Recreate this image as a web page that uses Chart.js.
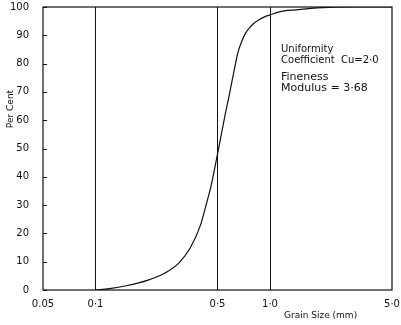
<!DOCTYPE html>
<html>
<head>
<meta charset="utf-8">
<script src="https://cdn.jsdelivr.net/npm/chart.js@4"></script>
<style>
  html, body { margin: 0; padding: 0; background: #fff; }
  #wrap { width: 401px; height: 325px; }
</style>
</head>
<body>
<div id="wrap"><canvas id="gradingChart" width="401" height="325"></canvas></div>
<script>
// grain size (mm) vs percent passing
const grainSize = [0.1, 0.12, 0.15, 0.2, 0.25, 0.3, 0.35, 0.4, 0.43, 0.46, 0.5, 0.553, 0.58, 0.62, 0.655, 0.69, 0.72, 0.755, 0.8, 0.86, 0.93, 1.0, 1.13, 1.4, 2.0, 3.0, 5.0];
const perCent   = [0, 0.5, 1.5, 3.5, 6, 9.5, 15, 23, 30, 37, 48, 62, 68, 77, 84, 88, 90.5, 92.3, 94, 95.4, 96.5, 97.2, 98.3, 99, 99.8, 100, 100];

const xTicks = [0.05, 0.1, 0.5, 1.0, 5.0];
const xTickLabels = ["0.05", "0·1", "0·5", "1·0", "5·0"];
const gridAt = [0.1, 0.5, 1.0];
const yTicks = [0, 10, 20, 30, 40, 50, 60, 70, 80, 90, 100];

const noteLines = [
  { text: "Uniformity", size: 10 },
  { text: "Coefficient  Cu=2·0", size: 10 },
  { text: "Fineness", size: 11 },
  { text: "Modulus = 3·68", size: 11 }
];

const ink = "#111";
const font = "'DejaVu Sans', sans-serif";

const frame = {
  id: "frame",
  afterDatasetsDraw(chart) {
    const ctx = chart.ctx, a = chart.chartArea;
    const y = chart.scales.y;
    ctx.save();
    ctx.strokeStyle = ink;
    ctx.lineWidth = 1.2;
    ctx.strokeRect(a.left, a.top, a.right - a.left, a.bottom - a.top);
    // short inward ticks on the left axis
    ctx.lineWidth = 1;
    yTicks.forEach(v => {
      const py = Math.round(y.getPixelForValue(v)) + 0.5;
      ctx.beginPath();
      ctx.moveTo(a.left, py);
      ctx.lineTo(a.left + 4, py);
      ctx.stroke();
    });
    ctx.fillStyle = ink;
    // axis titles
    ctx.font = "9px " + font;
    ctx.save();
    ctx.translate(11, 109);
    ctx.rotate(-Math.PI / 2);
    ctx.textAlign = "center";
    ctx.textBaseline = "middle";
    ctx.fillText("Per Cent", 0, 0);
    ctx.restore();
    ctx.font = "9px " + font;
    ctx.textAlign = "left";
    ctx.textBaseline = "alphabetic";
    ctx.fillText("Grain Size (mm)", 284, 318);
    // note block
    const x = chart.scales.x;
    const nx = x.getPixelForValue(1.0) + 11;
    const baselines = [52, 63, 80, 91];
    noteLines.forEach((ln, i) => {
      ctx.font = ln.size + "px " + font;
      ctx.fillText(ln.text, nx, baselines[i]);
    });
    ctx.restore();
  }
};

new Chart(document.getElementById("gradingChart"), {
  type: "line",
  data: {
    datasets: [{
      data: grainSize.map((g, i) => ({ x: g, y: perCent[i] })),
      borderColor: ink,
      borderWidth: 1.2,
      pointRadius: 0,
      fill: false,
      cubicInterpolationMode: "monotone"
    }]
  },
  options: {
    responsive: false,
    animation: false,
    layout: { padding: { top: 7, right: 9, left: 0, bottom: 0 } },
    plugins: { legend: { display: false }, tooltip: { enabled: false } },
    scales: {
      x: {
        type: "logarithmic",
        min: 0.05,
        max: 5,
        afterBuildTicks: s => { s.ticks = xTicks.map(v => ({ value: v })); },
        afterFit: s => { s.height = 35; s.paddingLeft = 0; s.paddingRight = 0; },
        ticks: {
          autoSkip: false,
          maxRotation: 0,
          padding: 8,
          color: ink,
          font: { family: font, size: 10 },
          callback: (v) => xTickLabels[xTicks.indexOf(v)]
        },
        grid: {
          drawTicks: false,
          lineWidth: 1,
          color: c => gridAt.includes(c.tick && c.tick.value) ? ink : "rgba(0,0,0,0)"
        },
        border: { display: false }
      },
      y: {
        min: 0,
        max: 100,
        afterBuildTicks: s => { s.ticks = yTicks.map(v => ({ value: v })); },
        afterFit: s => { s.width = 43; s.paddingTop = 0; s.paddingBottom = 0; },
        ticks: {
          padding: 6,
          color: ink,
          font: { family: font, size: 10 }
        },
        grid: { display: false },
        border: { display: false }
      }
    }
  },
  plugins: [frame]
});
</script>
</body>
</html>
